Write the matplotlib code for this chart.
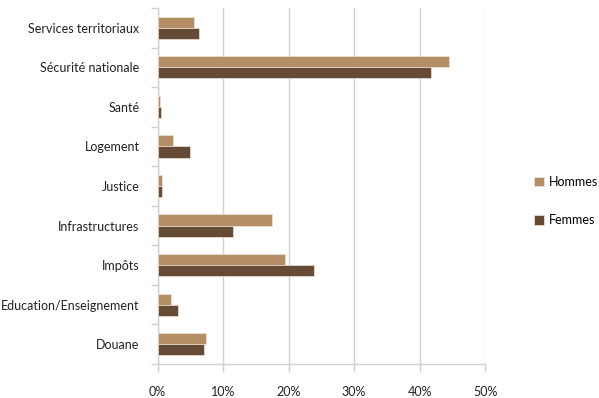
import numpy as np
import matplotlib.pyplot as plt
from matplotlib.ticker import FixedLocator, PercentFormatter

categories = ["Services territoriaux", "Sécurité nationale", "Santé", "Logement",
              "Justice", "Infrastructures", "Impôts", "Education/Enseignement", "Douane"]
hommes = [5.5, 44.5, 0.3, 2.4, 0.7, 17.5, 19.5, 2.1, 7.4]
femmes = [6.4, 41.8, 0.6, 4.9, 0.7, 11.5, 23.9, 3.1, 7.1]

c_hommes = "#b68e65"
c_femmes = "#654b36"
grey = "#d0d0d0"

plt.rcParams["font.family"] = ["Lato", "DejaVu Sans"]

fig = plt.figure(figsize=(5.99, 3.98), dpi=100)
ax = fig.add_axes([0.263, 0.0854, 0.547, 0.8946])

y = np.arange(len(categories))
h = 0.28
ax.barh(y - h / 2, hommes, height=h, color=c_hommes, edgecolor="#efe3d6", linewidth=0.5, label="Hommes", zorder=3)
ax.barh(y + h / 2, femmes, height=h, color=c_femmes, edgecolor="#efe3d6", linewidth=0.5, label="Femmes", zorder=3)

ax.set_xlim(0, 50)
ax.set_ylim(len(categories) - 0.5, -0.5)
ax.set_xticks(np.arange(0, 51, 10))
ax.xaxis.set_major_formatter(PercentFormatter(decimals=0))
ax.set_yticks(y)
ax.set_yticklabels(categories)
ax.yaxis.set_minor_locator(FixedLocator(np.arange(-0.5, len(categories), 1)))

ax.grid(axis="x", color=grey, linewidth=1, zorder=0)
for s in ["top", "right"]:
    ax.spines[s].set_visible(False)
for s in ["left", "bottom"]:
    ax.spines[s].set_color(grey)
    ax.spines[s].set_linewidth(1)

ax.tick_params(axis="y", which="major", length=0, pad=13, labelsize=9, labelcolor="#222222")
ax.tick_params(axis="y", which="minor", length=5, color=grey, width=1)
ax.tick_params(axis="x", length=6, color=grey, width=1, pad=10, labelsize=9, labelcolor="#222222")

fig.legend(loc="center left", bbox_to_anchor=(0.872, 0.495), frameon=False, fontsize=9,
           handlelength=0.8, handleheight=0.8, handletextpad=0.4, labelspacing=2.1)

fig.savefig("out.png", dpi=100)
